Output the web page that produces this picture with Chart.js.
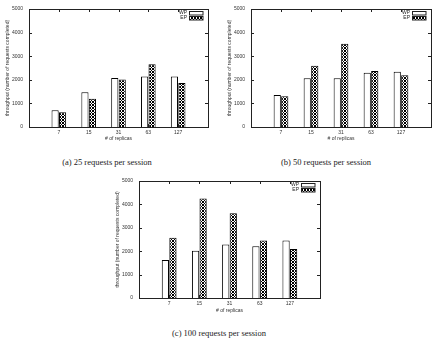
<!DOCTYPE html>
<html>
<head>
<meta charset="utf-8">
<script src="https://cdn.jsdelivr.net/npm/chart.js@4.4.0/dist/chart.umd.min.js"></script>
<style>
  body { margin: 0; background: #fff; width: 441px; height: 340px; position: relative; overflow: hidden; }
  .box { position: absolute; width: 215px; height: 150px; }
  .cap { position: absolute; font-family: "Liberation Serif", "DejaVu Serif", serif; font-size: 8.5px; color: #222;
         white-space: nowrap; transform: translateX(-50%); }
</style>
</head>
<body>
<div class="box" style="left:0;top:0"><canvas id="chartA" width="215" height="150"></canvas></div>
<div class="box" style="left:222px;top:0"><canvas id="chartB" width="215" height="150"></canvas></div>
<div class="box" style="left:110px;top:172px"><canvas id="chartC" width="215" height="150"></canvas></div>
<div class="cap" style="left:107px;top:157px">(a) 25 requests per session</div>
<div class="cap" style="left:326px;top:157px">(b) 50 requests per session</div>
<div class="cap" style="left:219px;top:328px">(c) 100 requests per session</div>

<script>
// ---- data ----
const replicas = ['7', '15', '31', '63', '127'];
const yTicks = [0, 1000, 2000, 3000, 4000, 5000];
const seriesNames = ['WP', 'EP'];

const wp25 = [710, 1470, 2080, 2140, 2140];
const ep25 = [630, 1200, 2010, 2660, 1860];
const wp50 = [1360, 2070, 2070, 2300, 2340];
const ep50 = [1300, 2600, 3530, 2370, 2190];
const wp100 = [1620, 2020, 2290, 2210, 2460];
const ep100 = [2580, 4250, 3620, 2460, 2090];

const tickFont = { family: 'Liberation Sans', size: 5 };

// crosshatch fill, gnuplot style
function hatch() {
    const c = document.createElement('canvas');
    c.width = 3; c.height = 3;
    const g = c.getContext('2d');
    g.fillStyle = '#fff';
    g.fillRect(0, 0, 3, 3);
    g.strokeStyle = '#000';
    g.lineWidth = 1;
    g.beginPath();
    g.moveTo(0, 0); g.lineTo(3, 3);
    g.moveTo(3, 0); g.lineTo(0, 3);
    g.stroke();
    return g.createPattern(c, 'repeat');
}

// border box, inward tick marks and the little legend in the top right
const frame = {
    id: 'frame',
    afterDatasetsDraw(chart) {
        const { ctx, chartArea: a, scales: { x, y } } = chart;
        ctx.save();
        ctx.strokeStyle = '#222';
        ctx.lineWidth = 1;
        ctx.strokeRect(Math.round(a.left) + 0.5, Math.round(a.top) + 0.5,
            Math.round(a.right - a.left), Math.round(a.bottom - a.top));
        ctx.beginPath();
        x.ticks.forEach((t, i) => {
            if (!x.getLabelForValue(t.value)) return;
            const px = Math.round(x.getPixelForTick(i)) + 0.5;
            ctx.moveTo(px, a.bottom); ctx.lineTo(px, a.bottom - 3);
            ctx.moveTo(px, a.top); ctx.lineTo(px, a.top + 3);
        });
        y.ticks.forEach((t, i) => {
            const py = Math.round(y.getPixelForTick(i)) + 0.5;
            ctx.moveTo(a.left, py); ctx.lineTo(a.left + 3, py);
            ctx.moveTo(a.right, py); ctx.lineTo(a.right - 3, py);
        });
        ctx.stroke();

        ctx.font = '5px "Liberation Sans"';
        ctx.textAlign = 'right';
        ctx.textBaseline = 'middle';
        chart.data.datasets.forEach((ds, i) => {
            const cy = a.top + 4 + i * 5;
            ctx.fillStyle = '#222';
            ctx.fillText(ds.label, a.right - 21, cy);
            ctx.fillStyle = ds.backgroundColor;
            ctx.fillRect(a.right - 19, cy - 1.5, 14, 3.5);
            ctx.strokeRect(a.right - 18.5, cy - 1.5, 13.5, 3.5);
        });
        ctx.restore();
    }
};

function makeChart(id, wp, ep, rightPad, xHeight) {
    new Chart(document.getElementById(id), {
        type: 'bar',
        data: {
            labels: ['', ...replicas, ''],
            datasets: [
                { label: seriesNames[0], data: [null, ...wp, null], backgroundColor: '#fff',
                  borderColor: '#000', borderWidth: 1 },
                { label: seriesNames[1], data: [null, ...ep, null], backgroundColor: hatch(),
                  borderColor: '#000', borderWidth: 1 }
            ]
        },
        options: {
            responsive: false,
            animation: false,
            events: [],
            layout: { padding: { top: 6, right: rightPad, bottom: 0, left: 0 } },
            categoryPercentage: 0.5,
            barPercentage: 0.96,
            plugins: { legend: { display: false }, tooltip: { enabled: false } },
            scales: {
                x: {
                    offset: false,
                    grid: { display: false, drawTicks: false },
                    border: { display: false },
                    ticks: { font: tickFont, color: '#333', padding: 3, maxRotation: 0, autoSkip: false },
                    title: { display: true, text: '# of replicas', font: tickFont, color: '#333',
                             padding: { top: 1, bottom: 8 } },
                    afterFit(s) { s.height = xHeight; }
                },
                y: {
                    min: 0, max: 5000,
                    afterBuildTicks(s) { s.ticks = yTicks.map(v => ({ value: v })); },
                    grid: { display: false, drawTicks: false },
                    border: { display: false },
                    ticks: { font: tickFont, color: '#333', padding: 6, callback: v => String(v) },
                    title: { display: true, text: 'throughput (number of requests completed)',
                             font: tickFont, color: '#333', padding: { top: 5, bottom: 0 } },
                    afterFit(s) { s.width = 29; }
                }
            }
        },
        plugins: [frame]
    });
}

makeChart('chartA', wp25, ep25, 7, 23);
makeChart('chartB', wp50, ep50, 6, 23);
makeChart('chartC', wp100, ep100, 5, 24);
</script>
</body>
</html>
